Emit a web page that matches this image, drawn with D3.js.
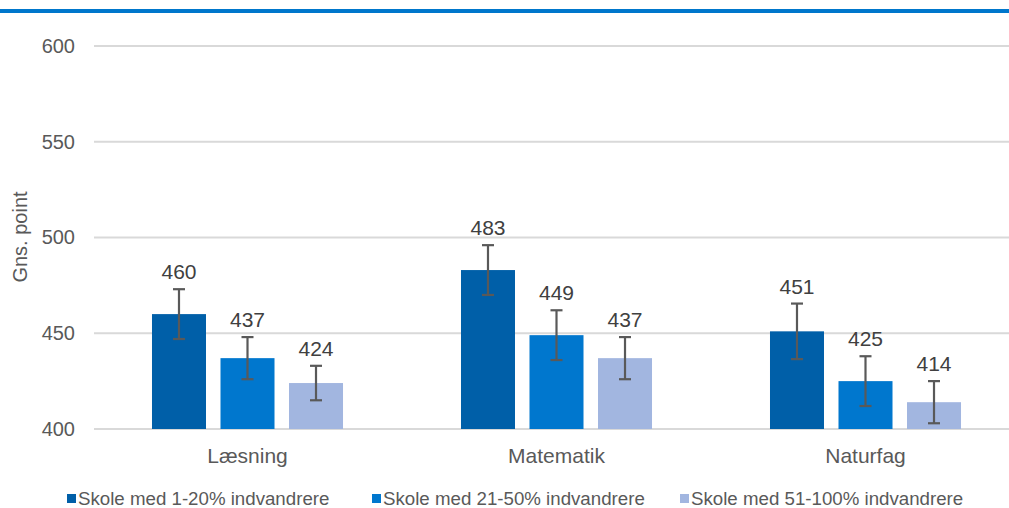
<!DOCTYPE html>
<html><head><meta charset="utf-8">
<script src="https://cdn.jsdelivr.net/npm/d3@7"></script>
<style>body{margin:0;background:#fff}svg{display:block;font-family:"Liberation Sans",Arial,sans-serif}</style>
</head><body><svg id="c" width="1009" height="508"></svg>
<script>
const categories = ["Læsning","Matematik","Naturfag"];
const seriesNames = ["Skole med 1-20% indvandrere","Skole med 21-50% indvandrere","Skole med 51-100% indvandrere"];
const s1 = [460,483,451];
const s2 = [437,449,425];
const s3 = [424,437,414];
const e1 = [13,13,14.5];
const e2 = [11,13,13];
const e3 = [9,11,11];
const yTicks = [400,450,500,550,600];
const colors = ["#005FA8","#0077CE","#A2B6E0"];

const values = [s1,s2,s3], errs = [e1,e2,e3];
const svg = d3.select("#c");
const W = 1009;

// top rule
svg.append("rect").attr("x",0).attr("y",9).attr("width",W).attr("height",4).attr("fill","#0077CC");

const y = d3.scaleLinear().domain([400,600]).range([429,46]);
const x = d3.scaleBand().domain(categories).range([93,1020]);
const xi = d3.scaleBand().domain(seriesNames).range([0,x.bandwidth()]).paddingInner(0.2117).paddingOuter(0.861);

// gridlines
svg.append("g").selectAll("line").data(yTicks).join("line")
  .attr("x1",94).attr("x2",W).attr("y1",d=>y(d)).attr("y2",d=>y(d))
  .attr("stroke","#D9D9D9").attr("stroke-width",2);

// y axis labels
const ya = svg.append("g").attr("transform","translate(75,0)")
  .call(d3.axisLeft(y).tickValues(yTicks).tickSize(0).tickPadding(0));
ya.select(".domain").remove();
ya.selectAll("text").attr("font-size",20).attr("fill","#595959").attr("font-family","Liberation Sans, Arial, sans-serif");

svg.append("text").attr("transform","translate(27,237) rotate(-90)")
  .attr("text-anchor","middle").attr("font-size",20).attr("fill","#595959").text("Gns. point");

// x axis labels
const xa = svg.append("g").attr("transform","translate(0,436)")
  .call(d3.axisBottom(x).tickSize(0).tickPadding(0));
xa.select(".domain").remove();
xa.selectAll("text").attr("font-size",21).attr("fill","#595959").attr("dy","0").attr("y",27).attr("font-family","Liberation Sans, Arial, sans-serif");

// bars
seriesNames.forEach((s,si)=>{
  const g = svg.append("g");
  const data = categories.map((c,ci)=>({c, v:values[si][ci], e:errs[si][ci]}));
  g.selectAll("rect").data(data).join("rect")
    .attr("x",d=>x(d.c)+xi(s)).attr("width",xi.bandwidth())
    .attr("y",d=>y(d.v)).attr("height",d=>y(400)-y(d.v))
    .attr("fill",colors[si]);
  // error bars
  const eb = g.selectAll("g.eb").data(data).join("g").attr("class","eb")
    .attr("stroke","#595959").attr("stroke-width",2.2);
  const cx = d=>x(d.c)+xi(s)+xi.bandwidth()/2;
  eb.append("line").attr("x1",cx).attr("x2",cx).attr("y1",d=>y(d.v+d.e)).attr("y2",d=>y(d.v-d.e));
  eb.append("line").attr("x1",d=>cx(d)-6).attr("x2",d=>cx(d)+6).attr("y1",d=>y(d.v+d.e)).attr("y2",d=>y(d.v+d.e));
  eb.append("line").attr("x1",d=>cx(d)-6).attr("x2",d=>cx(d)+6).attr("y1",d=>y(d.v-d.e)).attr("y2",d=>y(d.v-d.e));
  g.selectAll("text").data(data).join("text")
    .attr("x",cx).attr("y",d=>y(d.v+d.e)-10).attr("text-anchor","middle")
    .attr("font-size",21).attr("fill","#404040").text(d=>d.v);
});

// legend
const legX = [67,372,680];
const lg = svg.append("g").selectAll("g").data(seriesNames).join("g")
  .attr("transform",(d,i)=>`translate(${legX[i]},499)`);
lg.append("rect").attr("x",0).attr("y",-5).attr("width",9).attr("height",9).attr("fill",(d,i)=>colors[i]);
lg.append("text").attr("x",11).attr("y",6).attr("font-size",18.7).attr("fill","#595959").text(d=>d);
</script></body></html>
